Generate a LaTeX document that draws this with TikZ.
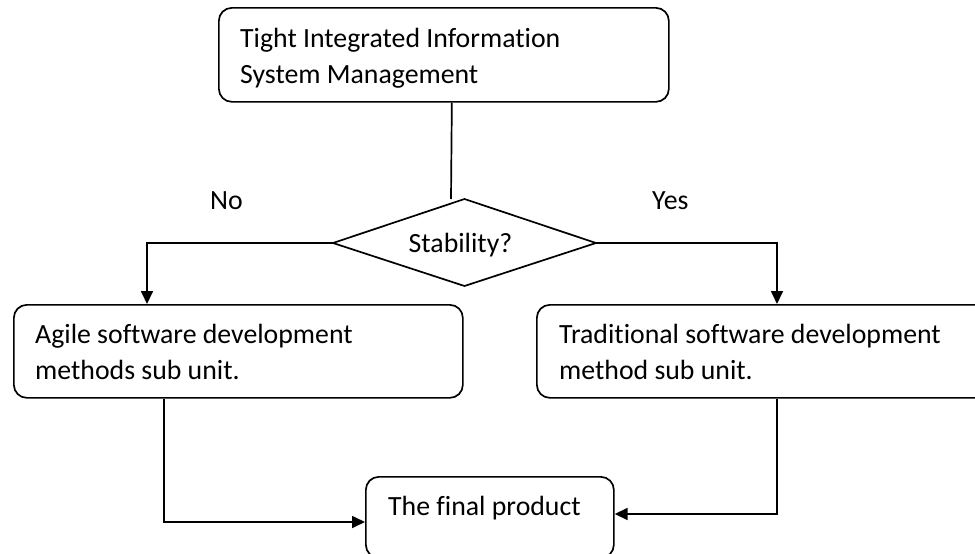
\documentclass[tikz,border=0pt]{standalone}
\usepackage{fontspec}
\setmainfont{Carlito}[Ligatures=NoCommon]
\usetikzlibrary{arrows.meta}
\begin{document}
\begin{tikzpicture}[x=1pt,y=-1pt,
  box/.style={draw, line width=1.7pt, rounded corners=13pt, inner sep=0pt, anchor=north west},
  txt/.style={anchor=base west, inner sep=0pt, font=\fontsize{27.8}{36}\selectfont},
  link/.style={line width=1.7pt, -{Triangle[length=13pt,width=12pt]}},
  plain/.style={line width=1.7pt}]
\clip (0,0) rectangle (975,554);

% boxes
\node[box, minimum width=450pt, minimum height=94pt] (top) at (218,7) {};
\node[box, minimum width=449pt, minimum height=93pt] (agile) at (13,304) {};
\node[box, minimum width=460pt, minimum height=93pt] (trad) at (536,304) {};
\node[box, minimum width=248pt, minimum height=81pt] (final) at (365,476) {};

% top box text, cut off at the lower edge of its frame
\begin{scope}
  \clip (218,7) rectangle (668,87);
  \node[txt] (top1) at (240,47) {Tight Integrated Information};
  \node[txt] (top2) at (240,83) {System Management};
\end{scope}

\node[txt] (agile1) at (35,343) {Agile software development};
\node[txt] (agile2) at (35,379) {methods sub unit.};
\node[txt] (trad1) at (559,343) {Traditional software development};
\node[txt] (trad2) at (559,379) {method sub unit.};
\node[txt] (final1) at (388,515) {The final product};

% decision diamond
\coordinate (dl) at (333,243);
\coordinate (dt) at (464.5,199);
\coordinate (dr) at (596,243);
\coordinate (db) at (464.5,286);
\draw[plain, line join=miter] (dl) -- (dt) -- (dr) -- (db) -- cycle;
\node[anchor=base, inner sep=0pt, font=\fontsize{27.8}{36}\selectfont] (stab) at (460.5,252) {Stability?};

\node[txt] (no) at (210,209) {No};
\node[txt] (yes) at (652,209) {Yes};

% connectors
\coordinate (topout) at ([xshift=8pt]top.south);
\coordinate (qin) at (451,199);
\draw[plain] (topout) -- (qin);

\coordinate (agilein) at ([xshift=134pt]agile.north west);
\coordinate (tradin) at ([xshift=241pt]trad.north west);
\draw[link] (dl) -| (agilein);
\draw[link] (dr) -| (tradin);

\coordinate (agileout) at ([xshift=151pt]agile.south west);
\coordinate (tradout) at ([xshift=241pt]trad.south west);
\coordinate (finl) at ([yshift=-46pt]final.north west);
\coordinate (finr) at ([yshift=-38pt]final.north east);
\draw[link] (agileout) |- (finl);
\draw[link] (tradout) |- (finr);
\end{tikzpicture}
\end{document}
